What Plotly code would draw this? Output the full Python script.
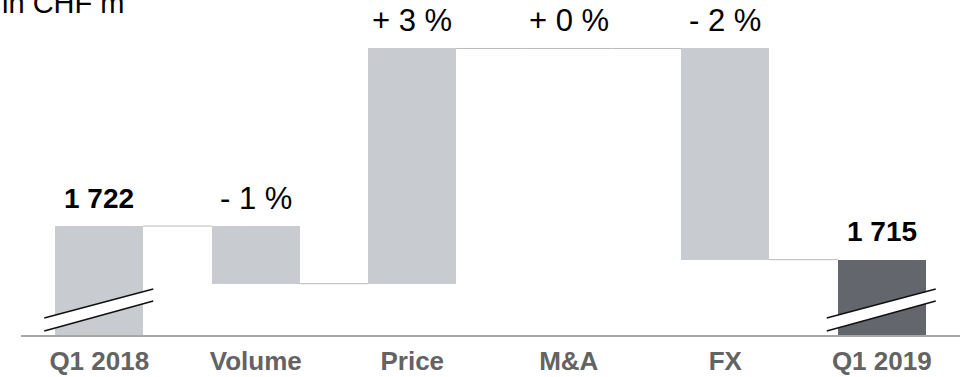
import plotly.graph_objects as go

# ---- data ----
categories = ["Q1 2018", "Volume", "Price", "M&A", "FX", "Q1 2019"]
measures = ["absolute", "relative", "relative", "relative", "relative", "total"]
values = [1722, -12, 49, 0, -44, 1715]
value_labels = ["1 722", "- 1 %", "+ 3 %", "+ 0 %", "- 2 %", "1 715"]
axis_floor = 1699.3  # broken-axis baseline value
y_top = 1769.1

# ---- styles ----
FONT = "Liberation Sans, Arial, sans-serif"
LIGHT = "#c8cbcf"
DARK = "#63666c"
CONN = "#b8babe"
W = 0.56

# compute waterfall geometry
bases, heights, colors, levels = [], [], [], []
cum = 0
for m, v in zip(measures, values):
    if m == "absolute":
        cum = v
        bases.append(axis_floor); heights.append(v - axis_floor); colors.append(LIGHT)
    elif m == "total":
        cum = v
        bases.append(axis_floor); heights.append(v - axis_floor); colors.append(DARK)
    else:
        prev = cum
        cum = cum + v
        bases.append(min(prev, cum)); heights.append(abs(v)); colors.append(LIGHT)
    levels.append(cum)

xs = list(range(len(categories)))

fig = go.Figure()
fig.add_trace(go.Bar(x=xs, y=heights, base=bases, width=W, marker=dict(color=colors, line=dict(width=0)),
                     hoverinfo="skip"))

# connectors
cx, cy = [], []
for i in range(len(xs) - 1):
    cx += [xs[i] + W / 2, xs[i + 1] - W / 2, None]
    cy += [levels[i], levels[i], None]
for i, (m, v) in enumerate(zip(measures, values)):
    if m == "relative" and v == 0:
        cx += [xs[i] - W / 2, xs[i] + W / 2, None]
        cy += [levels[i], levels[i], None]
fig.add_trace(go.Scatter(x=cx, y=cy, mode="lines", line=dict(color=CONN, width=1), hoverinfo="skip"))

shapes = []
# axis break marks on absolute/total bars
for i, m in enumerate(measures):
    if m in ("absolute", "total"):
        band = "M -55 17 L 54 46 L 54 34 L -55 4 Z"
        shapes.append(dict(type="path", xref="x", yref="y", xsizemode="pixel", ysizemode="pixel",
                           xanchor=xs[i], yanchor=axis_floor, path=band,
                           fillcolor="white", line=dict(width=0), layer="above"))
        for seg in ("M -55 17 L 54 46", "M -55 4 L 54 34"):
            shapes.append(dict(type="path", xref="x", yref="y", xsizemode="pixel", ysizemode="pixel",
                               xanchor=xs[i], yanchor=axis_floor, path=seg,
                               line=dict(color="#111111", width=1.6), layer="above"))

annotations = []
for i, (m, lab) in enumerate(zip(measures, value_labels)):
    top = bases[i] + heights[i]
    bold = m in ("absolute", "total")
    annotations.append(dict(x=xs[i], y=top, xref="x", yref="y", text=f"<b>{lab}</b>" if bold else lab,
                            showarrow=False, yanchor="middle", yshift=28,
                            font=dict(family=FONT, size=28 if bold else 31, color="#000000")))
annotations.append(dict(x=0, y=1, xref="paper", yref="paper", xanchor="left", yanchor="middle",
                        xshift=-21, yshift=-3, text="in CHF m", showarrow=False,
                        font=dict(family=FONT, size=29, color="#000000")))

fig.update_layout(
    width=961, height=377, margin=dict(l=21, r=1, t=0, b=42),
    plot_bgcolor="white", paper_bgcolor="white", showlegend=False, bargap=0,
    shapes=shapes, annotations=annotations,
    xaxis=dict(range=[-0.5, 5.5], tickvals=xs, ticktext=[f"<b>{c}</b>" for c in categories],
               showline=True, linecolor="#a6a6a6", linewidth=1.5, showgrid=False, zeroline=False,
               ticks="outside", ticklen=2, tickcolor="rgba(0,0,0,0)", automargin=False,
               tickfont=dict(family=FONT, size=26, color="#636363"), fixedrange=True),
    yaxis=dict(range=[axis_floor, y_top], visible=False, fixedrange=True, automargin=False),
)

fig.write_html("out.html")
